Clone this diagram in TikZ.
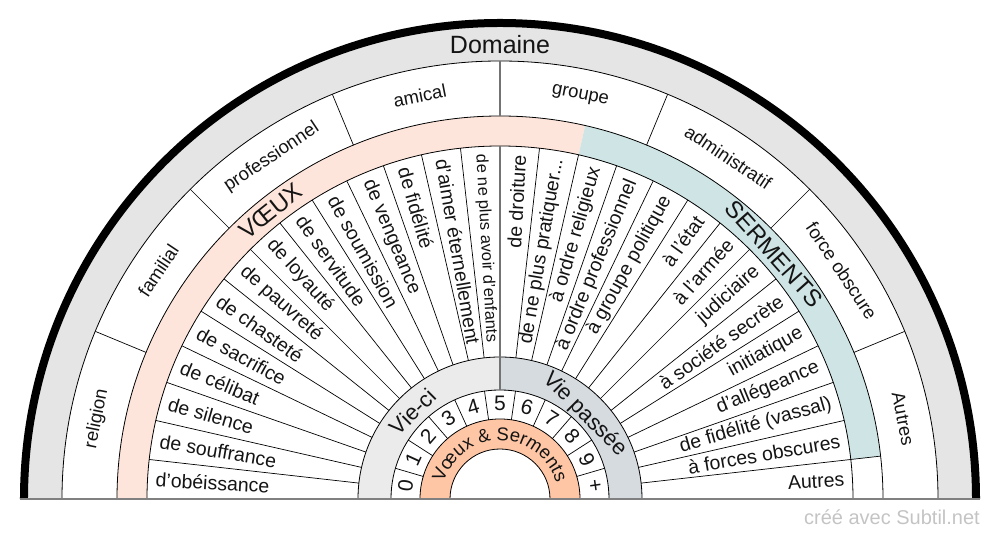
\documentclass[tikz,border=0pt]{standalone}
\usepackage{fontspec}
\setmainfont{Liberation Sans}
\usetikzlibrary{decorations.text}
\definecolor{txt}{HTML}{141414}
\definecolor{domfill}{HTML}{E5E5E5}
\definecolor{voeuxfill}{HTML}{FEE5DB}
\definecolor{sermentsfill}{HTML}{CFE5E5}
\definecolor{viecifill}{HTML}{EBEBEB}
\definecolor{viepassfill}{HTML}{D6DBDF}
\definecolor{centrefill}{HTML}{FFC6A6}
\definecolor{creditgray}{HTML}{C4C4C4}
\tikzset{
    ring/.style={draw=black, line width=0.8pt},
    divider/.style={draw=black, line width=0.7pt},
    middivider/.style={draw=black!55, line width=1.8pt},
    groundline/.style={draw=black!50, line width=2pt},
    itemlabel/.style={font=\fontsize{19.5}{21}\selectfont, text=txt, inner sep=1pt},
    domlabel/.style={font=\fontsize{18.5}{20}\selectfont, text=txt, inner sep=0pt},
    titlelabel/.style={font=\fontsize{25}{27}\selectfont, text=txt, inner sep=0pt},
    bandlabel/.style={font=\fontsize{24}{26}\selectfont, text=txt, inner sep=0pt},
    vielabel/.style={font=\fontsize{22}{24}\selectfont, text=txt, inner sep=0pt},
    numlabel/.style={font=\fontsize{21}{23}\selectfont, text=txt, inner sep=0pt},
    credit/.style={font=\fontsize{20}{22}\selectfont, text=creditgray, inner sep=0pt}
}
% annular sector: colour, radius in, radius out, angle from, angle to
\newcommand{\annsector}[5]{%
  \fill[#1] (#4:#3) arc[start angle=#4, end angle=#5, radius=#3]
    -- (#5:#2) arc[start angle=#5, end angle=#4, radius=#2] -- cycle;}
\newcommand{\pratiquer}{de ne plus pratiquer...}
\newcommand{\enfants}{{\fontsize{16.5}{18}\selectfont de ne plus avoir d'enfants}}

\begin{document}
\begin{tikzpicture}[x=1pt, y=1pt]
\useasboundingbox (-500,-41) rectangle (500,499);

% fills
\annsector{domfill}{438}{476}{180}{0}
\annsector{voeuxfill}{353}{383}{180}{77.1429}
\annsector{sermentsfill}{353}{383}{77.1429}{6.4286}
\annsector{viecifill}{109}{142}{180}{90}
\annsector{viepassfill}{109}{142}{90}{0}
\annsector{centrefill}{50}{80}{180}{0}
\draw[line width=8pt] (180:476) arc[start angle=180, end angle=0, radius=476];

% rings
\foreach \r in {50,80,109,142,353,383,438}
  \draw[ring] (180:\r) arc[start angle=180, end angle=0, radius=\r];

% dividers
\foreach \k in {1,...,27} {
  \pgfmathsetmacro\b{180-\k*180/28}
  \draw[divider] (\b:142) -- (\b:353);
}
\draw[divider] (6.4286:353) -- (6.4286:383);
\foreach \k in {1,...,10} {
  \pgfmathsetmacro\b{180-\k*180/11}
  \draw[divider] (\b:80) -- (\b:109);
}
\foreach \k in {1,2,3,5,6,7}
  \draw[divider] (\k*22.5:383) -- (\k*22.5:438);
\draw[middivider] (90:109) -- (90:353);
\draw[middivider] (90:383) -- (90:438);
\draw[groundline] (180:480) -- (0:480);

% domaine
\node[titlelabel] (domaine) at (90:454) {Domaine};
\foreach \lbl [count=\i] in {religion, familial, professionnel, amical, groupe, administratif, force obscure, Autres} {
  \pgfmathsetmacro\a{180-(\i-0.5)*22.5}
  \node[domlabel, rotate=\a-90] (dom\i) at (\a:411) {\lbl};
}

% voeux / serments
\node[bandlabel, rotate=38.57] (voeux) at (128.57:368) {VŒUX};
\node[bandlabel, rotate=-48.21] (serments) at (41.79:368) {SERMENTS};

% items
\foreach \txt [count=\i] in {d'obéissance, de souffrance, de silence, de célibat, de sacrifice, de chasteté, de pauvreté, de loyauté, de servitude, de soumission, de vengeance, de fidélité, d'aimer éternellement, \enfants} {
  \pgfmathsetmacro\a{180-(\i-0.5)*180/28}
  \node[itemlabel, anchor=west, rotate=\a-180] (it\i) at (\a:346) {\txt};
}
\foreach \txt [count=\i from 15] in {de droiture, \pratiquer, à ordre religieux, à ordre professionnel, à groupe politique, à l'état, à l'armée, judiciaire, à société secrète, initiatique, d'allégeance, de fidélité (vassal), à forces obscures, Autres} {
  \pgfmathsetmacro\a{180-(\i-0.5)*180/28}
  \node[itemlabel, anchor=east, rotate=\a] (it\i) at (\a:346) {\txt};
}

% vie-ci / vie passee
\node[vielabel, rotate=45] (vieci) at (135:123.5) {Vie-ci};
\node[vielabel, rotate=-45] (viepassee) at (45:119.5) {Vie passée};

% numbers
\foreach \lbl [count=\i] in {0,1,2,3,4,5,6,7,8,9,+} {
  \pgfmathsetmacro\a{180-(\i-0.5)*180/11}
  \node[numlabel, rotate=\a-90] (num\i) at (\a:95.5) {\lbl};
}

% centre
\path[decorate, decoration={text along path, text align=center, text color=txt,
  text={|\fontsize{18.5}{18.5}\selectfont|Vœux {\&} Serments}}]
  (180:58.5) arc[start angle=180, end angle=0, radius=58.5];

\node[credit, anchor=base east] (creditnote) at (480,-26) {créé avec Subtil.net};
\end{tikzpicture}
\end{document}
